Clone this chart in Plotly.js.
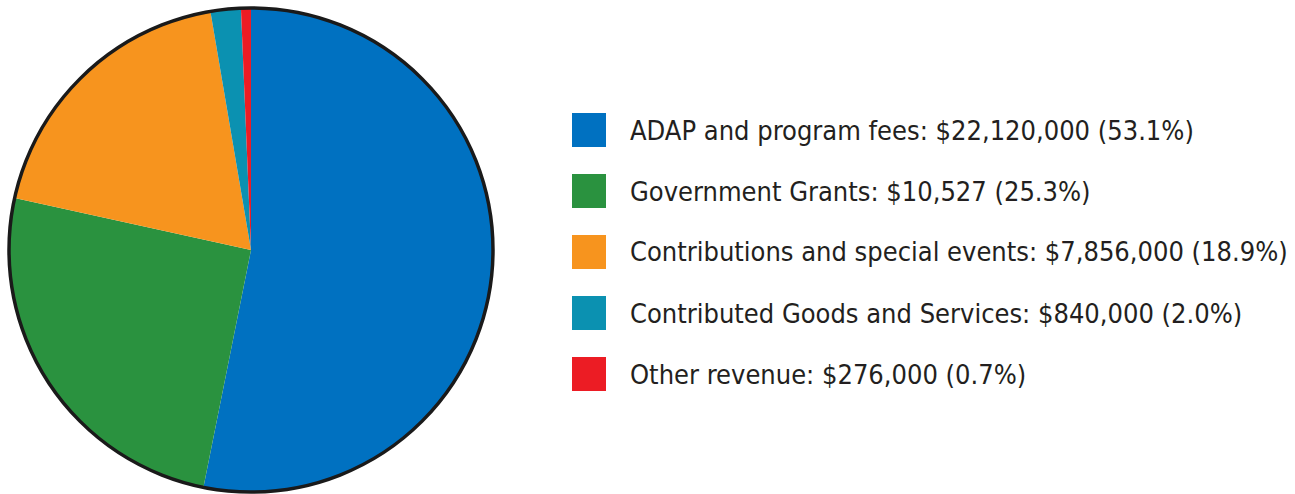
<!DOCTYPE html>
<html>
<head>
<meta charset="utf-8">
<script src="https://cdn.plot.ly/plotly-3.0.1.min.js"></script>
<style>html,body{margin:0;padding:0;background:#fff;}#chart{width:1295px;height:494px;}</style>
</head>
<body>
<div id="chart"></div>
<script>
// Data
var categories = ["ADAP and program fees", "Government Grants", "Contributions and special events", "Contributed Goods and Services", "Other revenue"];
var values = [22120000, 10527000, 7856000, 840000, 276000];
var valueLabels = ["$22,120,000", "$10,527", "$7,856,000", "$840,000", "$276,000"];
var percentLabels = ["53.1%", "25.3%", "18.9%", "2.0%", "0.7%"];
var colors = ["#0071C1", "#2A923F", "#F7941E", "#0B91B1", "#EC1C24"];

var W = 1295, H = 494;
var cx = 251, cy = 250, R = 242;

var trace = {
  type: "pie",
  labels: categories,
  values: values,
  sort: false,
  direction: "clockwise",
  rotation: 0,
  textinfo: "none",
  hoverinfo: "label+value+percent",
  marker: {colors: colors, line: {width: 0}},
  domain: {x: [(cx - R) / W, (cx + R) / W], y: [(H - cy - R) / H, (H - cy + R) / H]},
  showlegend: false
};

var shapes = [{
  type: "circle", xref: "paper", yref: "paper",
  x0: (cx - R) / W, x1: (cx + R) / W, y0: (H - cy - R) / H, y1: (H - cy + R) / H,
  line: {color: "#1a1a1a", width: 3.5}, fillcolor: "rgba(0,0,0,0)"
}];
var annotations = [];
var rowY0 = 130, rowStep = 61, sq = 34, sqX = 572, textX = 628;
for (var i = 0; i < categories.length; i++) {
  var yc = rowY0 + i * rowStep;
  shapes.push({
    type: "rect", xref: "paper", yref: "paper",
    x0: sqX / W, x1: (sqX + sq) / W, y0: (H - yc - sq / 2) / H, y1: (H - yc + sq / 2) / H,
    line: {width: 0}, fillcolor: colors[i]
  });
  annotations.push({
    xref: "paper", yref: "paper", x: textX / W, y: (H - yc) / H,
    xanchor: "left", yanchor: "middle", showarrow: false,
    text: categories[i] + ": " + valueLabels[i] + " (" + percentLabels[i] + ")",
    font: {family: "Liberation Sans Narrow, DejaVu Sans Condensed, sans-serif", size: 27, color: "#231F20"}
  });
}

var layout = {
  width: W, height: H,
  margin: {l: 0, r: 0, t: 0, b: 0},
  paper_bgcolor: "#ffffff",
  showlegend: false,
  shapes: shapes,
  annotations: annotations
};
Plotly.newPlot("chart", [trace], layout, {displayModeBar: false, staticPlot: true});
</script>
</body>
</html>
